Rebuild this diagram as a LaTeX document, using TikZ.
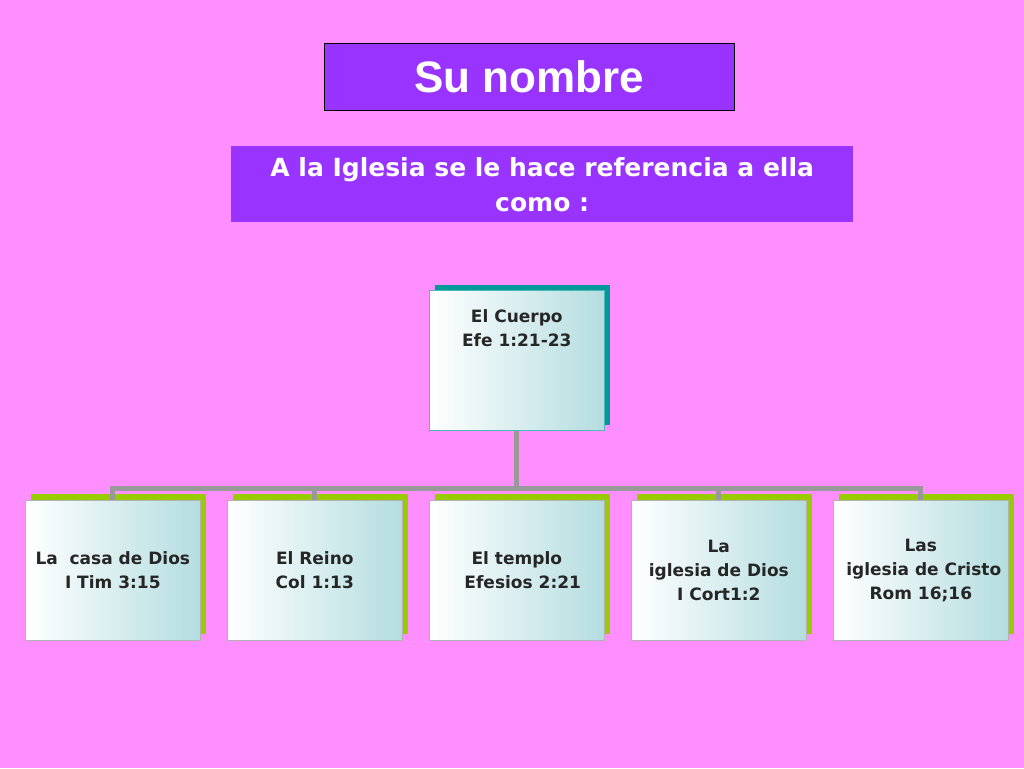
\documentclass[tikz,border=0pt]{standalone}
\usepackage{fontspec}
\setmainfont{DejaVu Sans}
\newfontfamily\arialf{Liberation Sans}
\definecolor{bgpink}{RGB}{255,143,255}
\definecolor{purp}{RGB}{153,51,255}
\definecolor{tealsh}{RGB}{0,153,153}
\definecolor{greensh}{RGB}{153,204,0}
\definecolor{cardr}{RGB}{180,221,224}
\begin{document}
\begin{tikzpicture}[x=1pt,y=-1pt,
  card/.style={minimum width=175pt,minimum height=140pt,anchor=north west,draw=#1,line width=0.6pt,left color=white,right color=cardr,inner sep=2pt,align=center,font=\bfseries\fontsize{17}{24}\selectfont,text=black!85},
  conn/.style={draw=gray!80,line width=5pt}]
\fill[bgpink] (0,0) rectangle (1024,768);
\node[draw=black,fill=purp,minimum width=410pt,minimum height=67pt,anchor=north west,text=white,font=\arialf\bfseries\fontsize{44}{50}\selectfont] (title) at (324,43) {Su nombre};
\node[fill=purp,minimum width=622pt,minimum height=76pt,anchor=north west,text=white,align=center,font=\bfseries\fontsize{25}{35}\selectfont] (sub) at (231,146) {A la Iglesia se le hace referencia a ella\\como :};
\fill[tealsh] (435,285) rectangle (610,425);
\foreach \x in {25,227,429,631,833}{\fill[greensh] (\x+6,494) rectangle (\x+181,634);}
\draw[conn] (516,430) -- (516,488);
\draw[conn] (110,488) -- (922,488);
\foreach \x in {112,314,718,920}{\draw[conn] (\x,486) -- (\x,500);}
\node[card=tealsh!70] (top) at (429,290) {El Cuerpo\\Efe 1:21-23\\[40pt]};
\node[card=gray!60] (b1) at (25,500) {La\ \ casa de Dios\\I Tim 3:15};
\node[card=gray!60] (b2) at (227,500) {El Reino\\Col 1:13};
\node[card=gray!60] (b3) at (429,500) {El templo\\\ \ Efesios 2:21};
\node[card=gray!60] (b4) at (631,500) {La\\iglesia de Dios\\I Cort1:2};
\node[card=gray!60] (b5) at (833,500) {Las\\\ iglesia de Cristo\\Rom 16;16};
\end{tikzpicture}
\end{document}
